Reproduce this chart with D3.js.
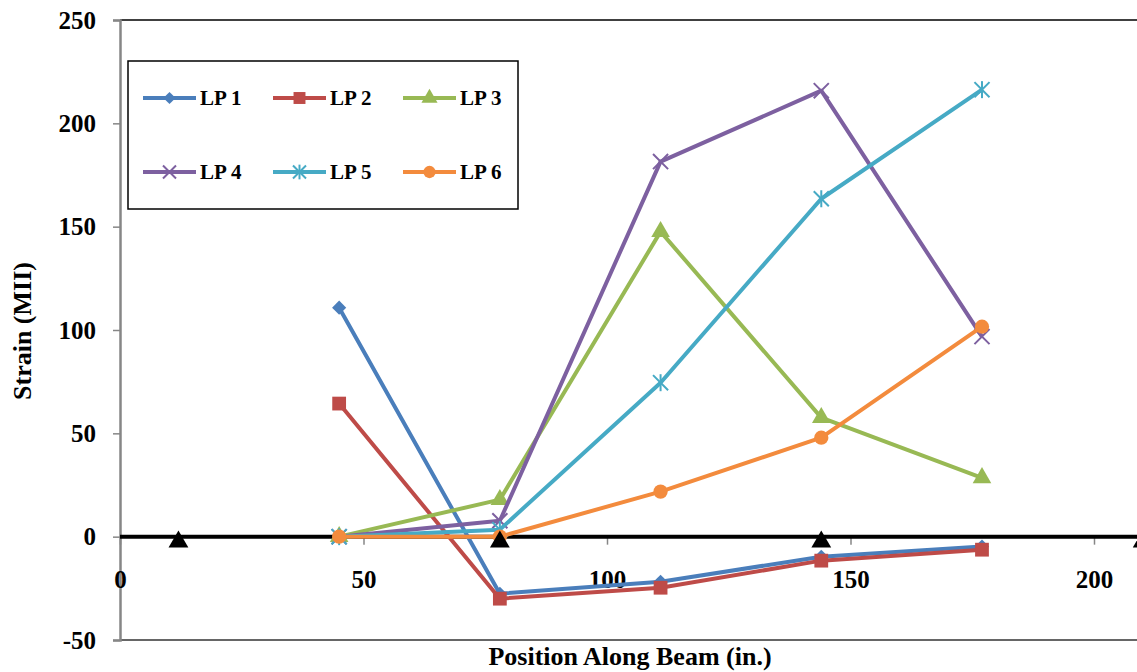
<!DOCTYPE html>
<html>
<head>
<meta charset="utf-8">
<script src="https://cdn.jsdelivr.net/npm/d3@7"></script>
<style>
  body { margin: 0; background: #fff; }
  svg { display: block; font-family: "Liberation Serif", "Times New Roman", serif; font-weight: bold; }
</style>
</head>
<body>
<svg id="chart" width="1137" height="672"></svg>
<script>
// positions along the beam (in.)
const positions = [45, 78, 111, 144, 177];

// strain readings per load point
const lp1 = [110.8, -27.6, -21.8, -9.7, -4.8];
const lp2 = [64.4, -30, -24.7, -11.6, -6.3];
const lp3 = [0, 17.9, 147.6, 57.6, 28.5];
const lp4 = [0, 7.7, 181.5, 215.8, 96.8];
const lp5 = [0, 3.4, 74.5, 163.5, 216.3];
const lp6 = [0, 0, 21.8, 47.9, 101.6];

const seriesNames = ['LP 1', 'LP 2', 'LP 3', 'LP 4', 'LP 5', 'LP 6'];
const seriesValues = [lp1, lp2, lp3, lp4, lp5, lp6];
const seriesColors = ['#4A7EBB', '#BE4B48', '#98B954', '#7D60A0', '#46AAC5', '#F38B3D'];
const seriesMarkers = ['diamond', 'square', 'triangle', 'x', 'star', 'circle'];

// support locations (drawn as black triangles just under the zero line)
const supportX = [12, 78, 144, 210];
const supportY = -2.5;

const xTicks = [0, 50, 100, 150, 200];
const yTicks = [-50, 0, 50, 100, 150, 200, 250];

const svg = d3.select('#chart');
const plotLeft = 120, plotTop = 20, plotBottom = 640;
const fmt = (d) => String(d); // plain hyphen for negatives

const x = d3.scaleLinear().domain([0, 250]).range([plotLeft, plotLeft + 250 * 4.87]);
const y = d3.scaleLinear().domain([-50, 250]).range([plotBottom, plotTop]);

// plot frame
svg.append('line')
  .attr('x1', plotLeft).attr('x2', 1137).attr('y1', plotTop).attr('y2', plotTop)
  .attr('stroke', '#000').attr('stroke-width', 1.5);
svg.append('line')
  .attr('x1', plotLeft).attr('x2', 1137).attr('y1', plotBottom).attr('y2', plotBottom)
  .attr('stroke', '#333').attr('stroke-width', 1.5);

// y axis
const yAxis = svg.append('g')
  .attr('transform', `translate(${plotLeft},0)`)
  .call(d3.axisLeft(y).tickValues(yTicks).tickSize(7).tickPadding(17).tickFormat(fmt));
yAxis.select('.domain').attr('stroke', '#868686').attr('stroke-width', 2.5);
yAxis.selectAll('.tick line').attr('stroke', '#868686').attr('stroke-width', 1.5);
yAxis.selectAll('text')
  .attr('font-size', 25).attr('font-family', 'Liberation Serif').attr('font-weight', 'bold').attr('fill', '#000');

// x axis along the zero line
const xAxis = svg.append('g')
  .attr('transform', `translate(0,${y(0)})`)
  .call(d3.axisBottom(x).tickValues(xTicks).tickSize(8).tickPadding(26).tickFormat(fmt));
xAxis.select('.domain').remove();
xAxis.selectAll('.tick line').attr('stroke', '#868686').attr('stroke-width', 1.5);
xAxis.selectAll('text')
  .attr('font-size', 25).attr('font-family', 'Liberation Serif').attr('font-weight', 'bold').attr('fill', '#000');

svg.append('line')
  .attr('x1', plotLeft).attr('x2', 1137).attr('y1', y(0)).attr('y2', y(0))
  .attr('stroke', '#000').attr('stroke-width', 4);

// axis titles
svg.append('text')
  .attr('x', 630).attr('y', 665)
  .attr('text-anchor', 'middle').attr('font-size', 26)
  .text('Position Along Beam (in.)');
svg.append('text')
  .attr('transform', 'translate(31,331) rotate(-90)')
  .attr('text-anchor', 'middle').attr('font-size', 26)
  .text('Strain (MII)');

// markers
function marker(sel, kind, color, scale) {
  const s = scale || 1;
  if (kind === 'diamond') {
    sel.append('path').attr('d', d3.symbol(d3.symbolSquare, 100 * s)()).attr('transform', 'rotate(45)').attr('fill', color);
  } else if (kind === 'square') {
    sel.append('path').attr('d', d3.symbol(d3.symbolSquare, 190 * s)()).attr('fill', color);
  } else if (kind === 'triangle') {
    sel.append('path').attr('d', d3.symbol(d3.symbolTriangle, 150 * s)()).attr('fill', color);
  } else if (kind === 'circle') {
    sel.append('path').attr('d', d3.symbol(d3.symbolCircle, 160 * s)()).attr('fill', color);
  } else if (kind === 'x') {
    sel.append('path').attr('d', d3.symbol(d3.symbolTimes, 150 * s)())
      .attr('fill', 'none').attr('stroke', color).attr('stroke-width', 2);
  } else if (kind === 'star') {
    sel.append('path').attr('d', d3.symbol(d3.symbolTimes, 150 * s)())
      .attr('fill', 'none').attr('stroke', color).attr('stroke-width', 2);
    const h = 8.5 * Math.sqrt(s);
    sel.append('line').attr('x1', 0).attr('x2', 0).attr('y1', -h).attr('y2', h)
      .attr('stroke', color).attr('stroke-width', 2);
  }
}

const line = d3.line()
  .x((d, i) => x(positions[i]))
  .y((d) => y(d));

seriesValues.forEach((vals, k) => {
  const g = svg.append('g');
  g.append('path')
    .attr('d', line(vals))
    .attr('fill', 'none')
    .attr('stroke', seriesColors[k])
    .attr('stroke-width', 4)
    .attr('stroke-linejoin', 'round');
  g.selectAll('g.pt')
    .data(vals)
    .enter()
    .append('g')
    .attr('class', 'pt')
    .attr('transform', (d, i) => `translate(${x(positions[i])},${y(d)})`)
    .each(function () { marker(d3.select(this), seriesMarkers[k], seriesColors[k]); });
});

// supports
svg.selectAll('path.support')
  .data(supportX)
  .enter()
  .append('path')
  .attr('class', 'support')
  .attr('d', d3.symbol(d3.symbolTriangle, 170)())
  .attr('transform', (d) => `translate(${x(d)},${y(supportY)})`)
  .attr('fill', '#000');

// legend
const legend = svg.append('g');
legend.append('rect')
  .attr('x', 128).attr('y', 61).attr('width', 390).attr('height', 148)
  .attr('fill', '#fff').attr('stroke', '#000').attr('stroke-width', 1.5);

const legendCols = [143, 273, 403];
const legendRows = [98, 172];
seriesNames.forEach((name, k) => {
  const lx = legendCols[k % 3];
  const ly = legendRows[Math.floor(k / 3)];
  const item = legend.append('g').attr('transform', `translate(${lx},${ly})`);
  item.append('line')
    .attr('x1', 0).attr('x2', 53).attr('y1', 0).attr('y2', 0)
    .attr('stroke', seriesColors[k]).attr('stroke-width', 4);
  const m = item.append('g').attr('transform', 'translate(26.5,0)');
  marker(m, seriesMarkers[k], seriesColors[k], 0.75);
  item.append('text')
    .attr('x', 57).attr('y', 7)
    .attr('font-size', 21)
    .text(name);
});
</script>
</body>
</html>
